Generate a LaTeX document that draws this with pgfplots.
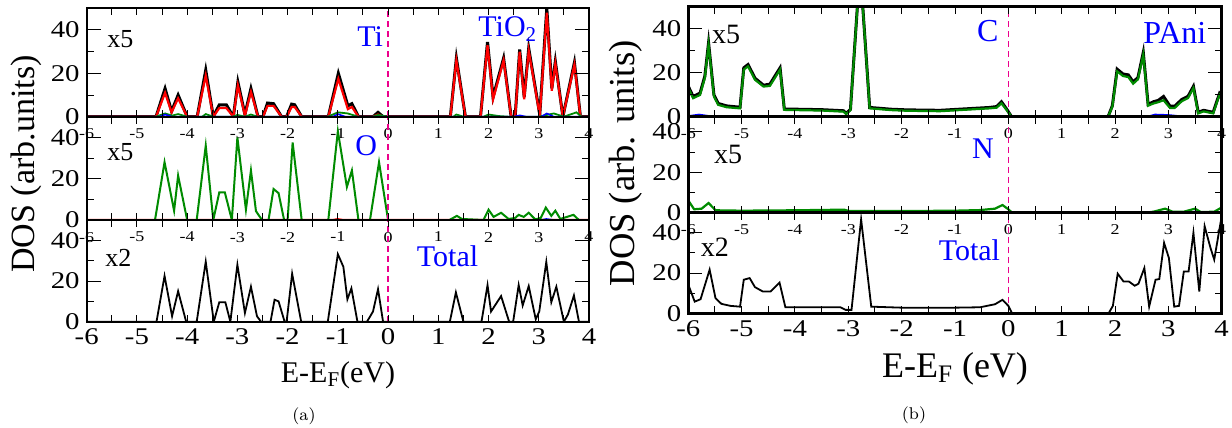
\documentclass[border=0pt]{standalone}
\usepackage{fontspec}
\setmainfont{Liberation Serif}
\newfontfamily\tickfont[FakeStretch=1.2]{Liberation Serif}
\newfontfamily\lm{Latin Modern Roman}
\usepackage{pgfplots}
\pgfplotsset{compat=1.18}
\definecolor{dgreen}{RGB}{0,139,0}
\pgfplotsset{
  dos/.style={
    scale only axis, anchor=north west,
    xmin=-6, xmax=4, ymin=0, ymax=50,
    xtick={-6,-5,-4,-3,-2,-1,0,1,2,3,4},
    xticklabels={-6,-5,-4,-3,-2,-1,0,1,2,3,4},
    minor xtick={-5.5,-4.5,-3.5,-2.5,-1.5,-0.5,0.5,1.5,2.5,3.5},
    ytick={0,20,40}, yticklabels={0,20,40},
    minor ytick={10,30},
    tick align=inside, tick pos=both,
    xtick style={/pgfplots/major tick length=3.5pt},
    major tick length=7pt, minor tick length=3.5pt,
    tick style={black, line width=0.5pt},
    axis line style={line width=1pt},
    ticklabel style={font=\tickfont\fontsize{12}{12}\selectfont},
    axis on top,
    every axis plot/.append style={no marks},
  },
  upper/.style={xticklabel style={font=\tickfont\fontsize{7.5}{7.5}\selectfont, yshift=-2.5pt}},
}
\begin{document}
\begin{tikzpicture}
\useasboundingbox (0,0) rectangle (616pt,-214pt);
% ===================== (a) =====================
\begin{axis}[dos, upper, at={(43.35pt,-4.15pt)}, width=251.15pt, height=54.2pt]
\addplot[black, line width=1.5pt] coordinates {(-6,0) (-4.62,0) (-4.44,13) (-4.31,2.5) (-4.18,10) (-4.0,0) (-3.8,0) (-3.63,21.5) (-3.48,0) (-3.36,5.5) (-3.22,5.5) (-3.08,0) (-2.99,16) (-2.85,1) (-2.73,13) (-2.59,0) (-2.49,0) (-2.4,6.3) (-2.28,6) (-2.12,0) (-2.02,0) (-1.92,5.8) (-1.86,5.5) (-1.72,0) (-1.19,0) (-0.99,20) (-0.8,5) (-0.72,6) (-0.59,0) (-0.3,0) (-0.2,2) (-0.1,0) (1.24,0) (1.36,27) (1.54,0) (1.84,0) (1.98,34.5) (2.09,9) (2.3,27) (2.45,0) (2.53,0) (2.62,31) (2.71,9) (2.8,31.5) (3.02,1) (3.16,50) (3.26,13) (3.33,25.5) (3.48,0) (3.71,25) (3.83,0) (4,0)};
\addplot[red, line width=1.1pt] coordinates {(-6,0) (-4.62,0) (-4.44,11) (-4.31,2) (-4.18,8.5) (-4.0,0) (-3.8,0) (-3.63,19) (-3.48,0) (-3.36,4) (-3.22,4) (-3.08,0) (-2.99,14.5) (-2.85,0.5) (-2.73,11.5) (-2.59,0) (-2.49,0) (-2.4,5) (-2.28,5) (-2.12,0) (-2.02,0) (-1.92,4.5) (-1.86,4.5) (-1.72,0) (-1.19,0) (-0.99,17.5) (-0.8,3.5) (-0.72,4.5) (-0.59,0) (-0.3,0) (-0.2,1) (-0.1,0) (1.24,0) (1.36,26) (1.54,0) (1.84,0) (1.98,33) (2.09,8) (2.3,26) (2.45,0) (2.53,0) (2.62,30) (2.71,8) (2.8,30.5) (3.02,0.5) (3.16,48) (3.26,12) (3.33,24.5) (3.48,0) (3.71,24) (3.83,0) (4,0)};
\addplot[dgreen, line width=0.9pt] coordinates {(-6,0) (-4.62,0) (-4.44,1.5) (-4.3,0.5) (-4.18,1.2) (-4.0,0) (-3.7,0) (-3.63,1.2) (-3.48,0) (-3.1,0) (-3.0,0.8) (-2.85,0) (-2.73,1) (-2.6,0) (-1.2,0) (-1.0,2) (-0.8,1.5) (-0.6,0) (-0.3,0) (-0.2,0.8) (0,0) (1.3,0) (1.36,1) (1.5,0) (1.9,0) (2.0,1) (2.2,0.3) (2.4,0) (3.0,0) (3.3,1.5) (3.5,0) (3.75,2) (3.85,0) (4,0)};
\addplot[blue, line width=0.8pt] coordinates {(-6,0) (-4.55,0) (-4.44,1) (-4.3,0) (-1.1,0) (-1.0,1.2) (-0.85,0) (2.5,0) (2.62,0.6) (2.75,0) (3.05,0) (3.16,1.5) (3.3,0) (4,0)};
\addplot[magenta, dashed, line width=0.8pt, dash pattern=on 3pt off 2pt] coordinates {(0,0) (0,50)};
\end{axis}
\begin{axis}[dos, upper, at={(43.35pt,-58.35pt)}, width=251.15pt, height=51.65pt]
\addplot[red, line width=1.1pt] coordinates {(-6,0) (-1.1,0) (-1.0,0.4) (-0.9,0) (4,0)};
\addplot[blue, line width=0.8pt] coordinates {(-6,0) (3.05,0) (3.15,0.5) (3.3,0) (4,0)};
\addplot[dgreen, line width=1pt] coordinates {(-6,0) (-4.64,0) (-4.45,28) (-4.26,4.5) (-4.18,21.5) (-4.0,0) (-3.81,0) (-3.63,36) (-3.48,0) (-3.36,13.4) (-3.25,13.4) (-3.11,0) (-3.0,40) (-2.83,5) (-2.73,24) (-2.63,4.3) (-2.51,0) (-2.38,0) (-2.28,15) (-2.18,13) (-2.07,0) (-2.0,0) (-1.9,37.5) (-1.72,0) (-1.19,0) (-1.0,43) (-0.82,16) (-0.72,24) (-0.59,0) (-0.36,0) (-0.18,28) (0.0,0) (1.22,0) (1.37,2) (1.47,0.5) (1.9,0) (2.0,5) (2.1,1.5) (2.25,3.5) (2.4,0.5) (2.53,1) (2.6,2.5) (2.7,1.5) (2.8,3.5) (2.93,0.3) (3.04,1) (3.14,6) (3.25,2) (3.33,4.5) (3.43,0.5) (3.69,2.5) (3.8,0) (4,0)};
\addplot[magenta, dashed, line width=0.8pt, dash pattern=on 3pt off 2pt] coordinates {(0,0) (0,50)};
\end{axis}
\begin{axis}[dos, at={(43.35pt,-110pt)}, width=251.15pt, height=50.85pt]
\addplot[black, line width=0.9pt] coordinates {(-6,0) (-4.61,0) (-4.45,22.5) (-4.3,2.7) (-4.18,15) (-4.02,0) (-3.81,0) (-3.63,29.5) (-3.47,0) (-3.36,9.6) (-3.24,9.6) (-3.14,0) (-3.0,28) (-2.85,4.3) (-2.73,17.2) (-2.61,2.7) (-2.53,0) (-2.34,0) (-2.26,10.8) (-2.18,10) (-2.06,0) (-2.02,0) (-1.91,23.6) (-1.73,0) (-1.2,0) (-1.0,33.2) (-0.89,27) (-0.81,11) (-0.73,16.4) (-0.61,0) (-0.42,0) (-0.3,5) (-0.2,16) (-0.1,0) (1.23,0) (1.35,14.4) (1.5,0) (1.86,0) (1.98,18) (2.05,5) (2.25,12.6) (2.41,0) (2.49,0) (2.6,18) (2.68,8) (2.8,17.5) (2.94,1.2) (3.01,5) (3.15,29.4) (3.25,9.6) (3.35,17.2) (3.5,0) (3.58,3.5) (3.7,12.9) (3.8,0) (4,0)};
\addplot[magenta, dashed, line width=0.8pt, dash pattern=on 3pt off 2pt] coordinates {(0,0) (0,50)};
\end{axis}
% ===================== (b) =====================
\begin{axis}[dos, upper, at={(344.15pt,-3.35pt)}, width=266.7pt, height=55pt, axis line style={line width=1.3pt}]
\addplot[black, line width=1.5pt] coordinates {(-6,13.8) (-5.91,9.2) (-5.78,10.7) (-5.69,18.4) (-5.62,33.6) (-5.52,10) (-5.44,6) (-5.28,4.9) (-5.03,4.3) (-4.96,22.2) (-4.88,23.7) (-4.75,17.5) (-4.59,14.3) (-4.47,14.8) (-4.28,22.2) (-4.2,3.5) (-3.5,3.2) (-3.09,2.7) (-3.04,1.5) (-2.96,3.4) (-2.78,68) (-2.6,4.2) (-2.2,3.4) (-1.9,3.1) (-1.28,2.9) (-0.35,4.2) (-0.22,4.6) (-0.13,6.8) (-0.03,3.4) (0.06,0) (1.87,0) (1.95,5) (2.04,21.6) (2.15,19.4) (2.25,19) (2.34,15.8) (2.43,17.8) (2.53,29.2) (2.62,5.6) (2.72,6.8) (2.81,7.4) (2.91,9.2) (3.03,4.8) (3.12,4.8) (3.25,7.8) (3.37,9.3) (3.47,13.8) (3.56,2) (3.66,2.9) (3.84,2) (3.96,10.6) (4,9.5)};
\addplot[dgreen, line width=1.1pt] coordinates {(-6,13) (-5.91,8.4) (-5.78,9.9) (-5.69,17.6) (-5.62,32.8) (-5.52,9.2) (-5.44,5.4) (-5.28,4.3) (-5.03,3.8) (-4.96,21.4) (-4.88,22.9) (-4.75,16.8) (-4.59,13.7) (-4.47,14) (-4.28,21.4) (-4.2,3.1) (-3.5,2.8) (-3.09,2.3) (-3.04,1.2) (-2.96,3) (-2.78,68) (-2.6,3.8) (-2.2,3) (-1.9,2.7) (-1.28,2.5) (-0.35,3.8) (-0.22,4.1) (-0.13,6.1) (-0.03,3) (0.06,0) (1.87,0) (1.95,4.6) (2.04,20.6) (2.15,18.5) (2.25,18) (2.34,15) (2.43,17) (2.53,28.2) (2.62,5) (2.72,6) (2.81,6.6) (2.91,7.5) (3.03,4) (3.12,4) (3.25,7) (3.37,8.5) (3.47,13) (3.56,1.5) (3.66,2.4) (3.84,1.5) (3.96,10) (4,9)};
\addplot[blue, line width=0.8pt] coordinates {(-6,0.3) (-5.8,1) (-5.6,0.3) (-5,0.2) (2.6,0) (2.75,1) (3.0,0.8) (3.2,0.3) (4,0)};
\addplot[magenta, dashed, line width=0.8pt, dash pattern=on 3pt off 2pt] coordinates {(0,0) (0,50)};
\end{axis}
\begin{axis}[dos, upper, at={(344.15pt,-58.35pt)}, width=266.7pt, height=48pt, ymax=47.5, axis line style={line width=1.3pt}]
\addplot[blue, line width=0.8pt] coordinates {(-6,0) (3.4,0) (3.5,0.6) (3.7,0) (4,0)};
\addplot[dgreen, line width=1.1pt] coordinates {(-6,6) (-5.89,1.7) (-5.75,2) (-5.62,4.8) (-5.49,1.2) (-5,1) (-4,1.2) (-3.08,1.5) (-2.98,0.8) (-2,0.8) (-1,1) (-0.53,1.3) (-0.25,2) (-0.11,3.8) (0,1.7) (0.07,0) (2.58,0) (2.72,0.5) (2.94,2) (3.08,0.5) (3.29,0.5) (3.5,2) (3.61,0.3) (3.86,0.5) (4,2.6)};
\addplot[magenta, dashed, line width=0.8pt, dash pattern=on 3pt off 2pt] coordinates {(0,0) (0,50)};
\end{axis}
\begin{axis}[dos, at={(344.15pt,-106.35pt)}, width=266.7pt, height=50.3pt, axis line style={line width=1.3pt}]
\addplot[black, line width=0.9pt] coordinates {(-6,14.2) (-5.88,5.8) (-5.77,7) (-5.6,21.7) (-5.49,7.5) (-5.38,4.7) (-5.21,3.7) (-5.03,3.3) (-4.96,16.7) (-4.85,17.5) (-4.75,13) (-4.6,10.8) (-4.46,10.8) (-4.29,15.3) (-4.18,3) (-3.15,3) (-3.05,1.7) (-2.94,1.7) (-2.76,46.7) (-2.57,3.3) (-2,2.8) (-1,2.8) (-0.53,3) (-0.25,4.5) (-0.11,6.7) (0,3.7) (0.07,0) (1.88,0) (1.96,3.7) (2.05,19.7) (2.16,15.8) (2.26,15.8) (2.37,13.7) (2.44,14.7) (2.55,22.5) (2.64,3.3) (2.76,16.7) (2.83,17) (2.92,35) (3.01,27.5) (3.11,3.3) (3.2,3.7) (3.29,20.8) (3.38,20.8) (3.47,40) (3.58,10.8) (3.68,43.3) (3.79,32.5) (3.86,26.7) (4,48.3)};
\addplot[magenta, dashed, line width=0.8pt, dash pattern=on 3pt off 2pt] coordinates {(0,0) (0,50)};
\end{axis}
% ===================== texts =====================
\begin{scope}[every node/.style={inner sep=0pt, anchor=base west}]
\node[font=\fontsize{13}{13}\selectfont] at (53.5pt,-23.5pt) {x5};
\node[font=\fontsize{15}{15}\selectfont, blue] at (178.5pt,-23.35pt) {Ti};
\node[font=\fontsize{15}{15}\selectfont, blue] at (239pt,-18.35pt) {TiO\textsubscript{2}};
\node[font=\fontsize{13}{13}\selectfont] at (53.5pt,-80pt) {x5};
\node[font=\fontsize{15}{15}\selectfont, blue] at (177.5pt,-77.5pt) {O};
\node[font=\fontsize{13}{13}\selectfont] at (52.5pt,-133.35pt) {x2};
\node[font=\fontsize{15}{15}\selectfont, blue] at (208.25pt,-133.35pt) {Total};
\node[font=\fontsize{14}{14}\selectfont] at (355.85pt,-21.65pt) {x5};
\node[font=\fontsize{16}{16}\selectfont, blue] at (488.35pt,-20.85pt) {C};
\node[font=\fontsize{16}{16}\selectfont, blue] at (571.5pt,-21.65pt) {PAni};
\node[font=\fontsize{14}{14}\selectfont] at (356.8pt,-81.65pt) {x5};
\node[font=\fontsize{15}{15}\selectfont, blue] at (485.8pt,-79pt) {N};
\node[font=\fontsize{14}{14}\selectfont] at (350.2pt,-128.35pt) {x2};
\node[font=\fontsize{15}{15}\selectfont, blue] at (469.2pt,-130pt) {Total};
\end{scope}
\node[rotate=90, font=\fontsize{17}{17}\selectfont] at (13.25pt,-82pt) {DOS (arb.units)};
\node[rotate=90, font=\fontsize{18.3}{18.3}\selectfont] at (312.75pt,-81.7pt) {DOS (arb. units)};
\node[anchor=base, inner sep=0pt, font=\fontsize{15}{15}\selectfont] at (169pt,-191pt) {E-E\textsubscript{F}(eV)};
\node[anchor=base, inner sep=0pt, font=\fontsize{18}{18}\selectfont] at (477.5pt,-188.5pt) {E-E\textsubscript{F} (eV)};
\node[anchor=base, inner sep=0pt, font=\lm\fontsize{8.5}{8.5}\selectfont] at (152pt,-210.3pt) {(a)};
\node[anchor=base, inner sep=0pt, font=\lm\fontsize{8.5}{8.5}\selectfont] at (457pt,-209.8pt) {(b)};
\end{tikzpicture}
\end{document}
